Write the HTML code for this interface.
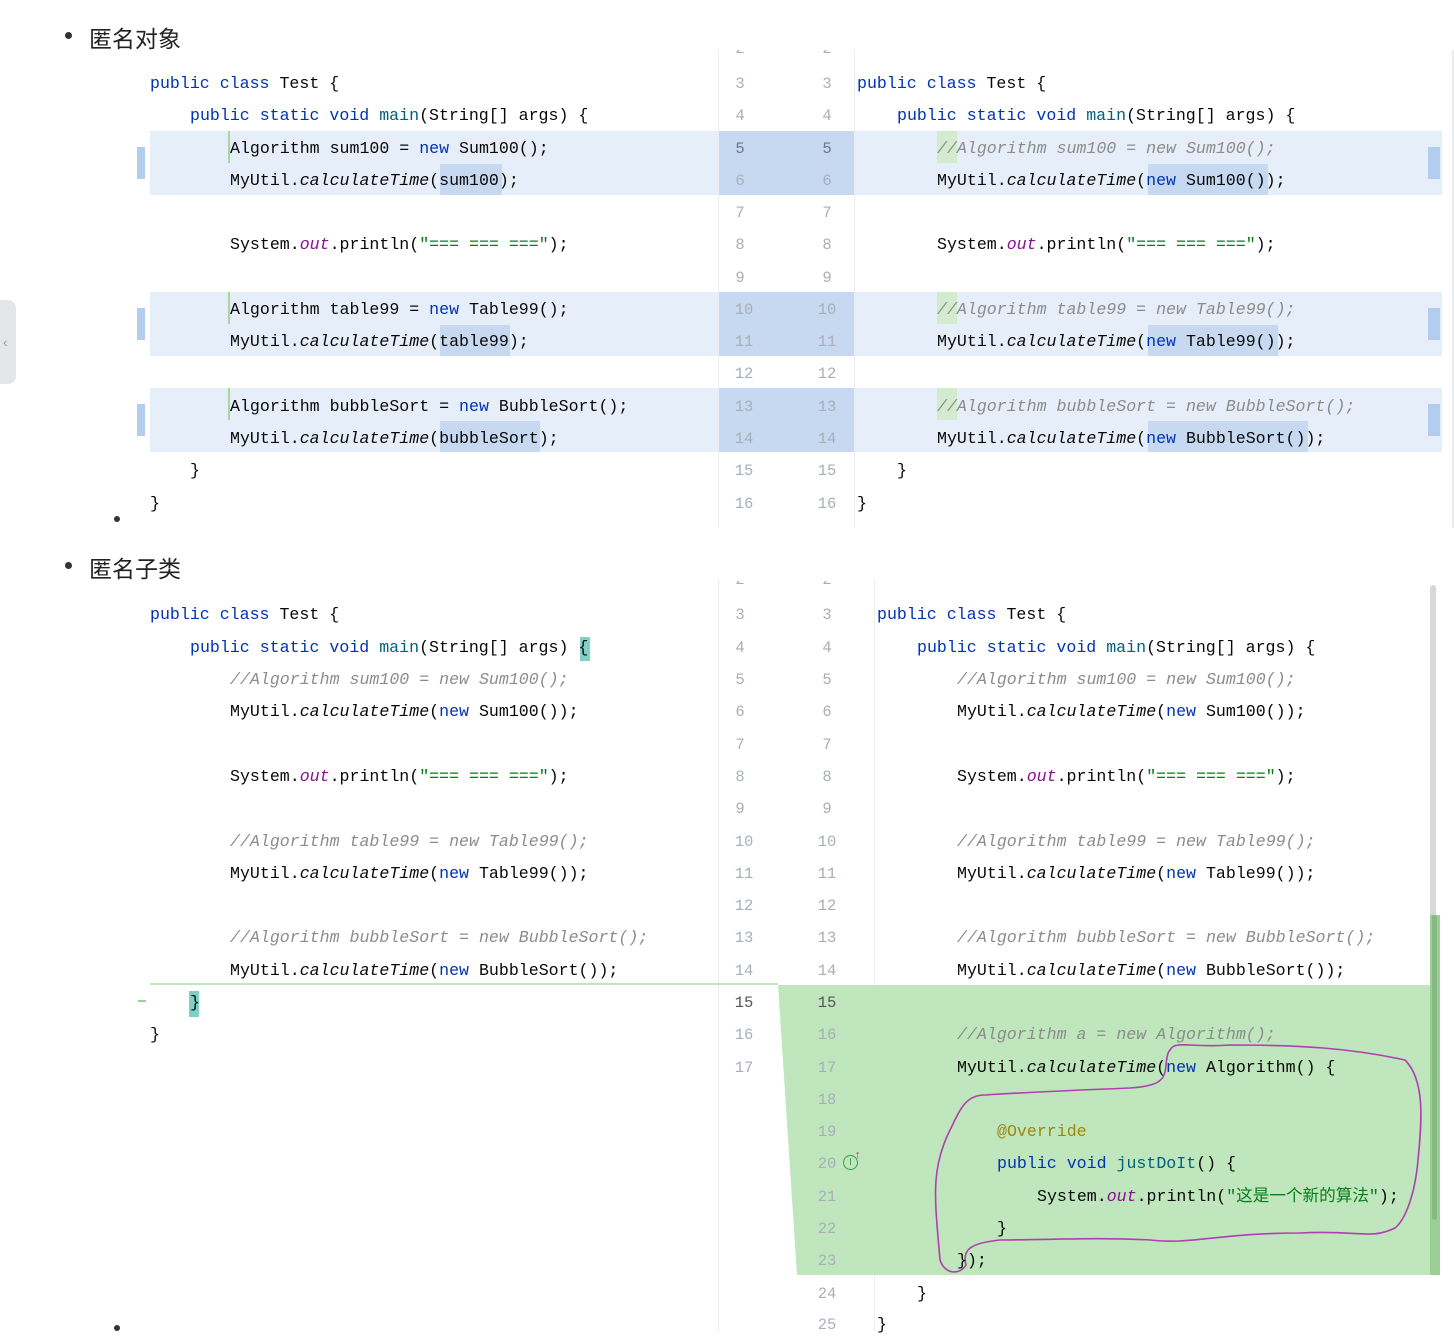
<!DOCTYPE html>
<html><head><meta charset="utf-8"><style>
body{margin:0;width:1454px;height:1331px;background:#fff;position:relative;overflow:hidden;font-family:"Liberation Mono","Noto Sans CJK SC",monospace;}
.a{position:absolute}
.l{position:absolute;height:32px;line-height:32px;white-space:pre;font-size:16.6px;color:#080808;margin-top:2px}
.n{position:absolute;height:32px;line-height:32px;font-size:15.5px;color:#a9aeb9;width:30px;text-align:center;margin-top:2px}
.t2{clip-path:inset(0 0 0 0);}
.k{color:#0033b3}.m{color:#00627a}.o{color:#871094;font-style:italic}.s{color:#067d17}.c{color:#8c8c8c;font-style:italic}.i{font-style:italic}.an{color:#9e880d}
.h{font-family:"Liberation Sans","Noto Sans CJK SC",sans-serif;font-size:23px;color:#222;position:absolute}
.dot{position:absolute;width:7px;height:7px;border-radius:50%;background:#333}
.clipbox{position:absolute;overflow:hidden;width:150px;height:8px}
</style></head><body>
<!-- headings -->
<div class="dot" style="left:65px;top:32px"></div><div class="h" style="left:89px;top:20px">匿名对象</div>
<div class="dot" style="left:65px;top:562px"></div><div class="h" style="left:89px;top:550px">匿名子类</div>
<div class="dot" style="left:114px;top:516px;width:6px;height:6px"></div>
<div class="dot" style="left:114px;top:1325px;width:6px;height:6px"></div>
<div class="a" style="left:0;top:300px;width:16px;height:84px;background:#e4e6ea;border-radius:0 8px 8px 0"></div>
<div class="a" style="left:3px;top:334px;color:#999;font-size:14px;font-family:'Liberation Sans'">‹</div>

<!-- top panel structure -->
<div class="a" style="left:718px;top:50px;width:1px;height:478px;background:#ebedf0"></div>
<div class="a" style="left:854px;top:50px;width:1px;height:478px;background:#ebedf0"></div>
<div class="a" style="left:1452px;top:50px;width:2px;height:478px;background:#ebedf0"></div>
<!-- highlights -->
<div class="a" style="left:150px;top:131px;width:568px;height:64px;background:#e6eef9"></div>
<div class="a" style="left:719px;top:131px;width:135px;height:64px;background:#c6d9f1"></div>
<div class="a" style="left:855px;top:131px;width:587px;height:64px;background:#e6eef9"></div>
<div class="a" style="left:150px;top:292px;width:568px;height:64px;background:#e6eef9"></div>
<div class="a" style="left:719px;top:292px;width:135px;height:64px;background:#c6d9f1"></div>
<div class="a" style="left:855px;top:292px;width:587px;height:64px;background:#e6eef9"></div>
<div class="a" style="left:150px;top:388px;width:568px;height:64px;background:#e6eef9"></div>
<div class="a" style="left:719px;top:388px;width:135px;height:64px;background:#c6d9f1"></div>
<div class="a" style="left:855px;top:388px;width:587px;height:64px;background:#e6eef9"></div>
<div class="a" style="left:137px;top:147px;width:8px;height:32px;background:#b3cdee"></div>
<div class="a" style="left:137px;top:308px;width:8px;height:32px;background:#b3cdee"></div>
<div class="a" style="left:137px;top:404px;width:8px;height:32px;background:#b3cdee"></div>
<div class="a" style="left:1428px;top:147px;width:12px;height:32px;background:#b3cdee"></div>
<div class="a" style="left:1428px;top:308px;width:12px;height:32px;background:#b3cdee"></div>
<div class="a" style="left:1428px;top:404px;width:12px;height:32px;background:#b3cdee"></div>
<div class="a" style="left:440px;top:164px;width:62px;height:31px;background:#c6d9f1"></div>
<div class="a" style="left:440px;top:325px;width:70px;height:31px;background:#c6d9f1"></div>
<div class="a" style="left:440px;top:421px;width:100px;height:31px;background:#c6d9f1"></div>
<div class="a" style="left:1148px;top:164px;width:120px;height:31px;background:#c6d9f1"></div>
<div class="a" style="left:1148px;top:325px;width:130px;height:31px;background:#c6d9f1"></div>
<div class="a" style="left:1148px;top:421px;width:160px;height:31px;background:#c6d9f1"></div>
<div class="a" style="left:228px;top:131px;width:2px;height:32px;background:#a8d8a0"></div>
<div class="a" style="left:228px;top:292px;width:2px;height:32px;background:#a8d8a0"></div>
<div class="a" style="left:228px;top:388px;width:2px;height:32px;background:#a8d8a0"></div>
<div class="a" style="left:937px;top:131px;width:20px;height:32px;background:#d3ebcf"></div>
<div class="a" style="left:937px;top:292px;width:20px;height:32px;background:#d3ebcf"></div>
<div class="a" style="left:937px;top:388px;width:20px;height:32px;background:#d3ebcf"></div>

<!-- top line numbers -->
<div class="clipbox" style="left:719px;top:50px"><div class="n" style="left:6px;top:-19px">2</div><div class="n" style="left:93px;top:-19px">2</div></div>
<div class="n" style="left:725px;top:66px">3</div><div class="n" style="left:812px;top:66px">3</div>
<div class="n" style="left:725px;top:98px">4</div><div class="n" style="left:812px;top:98px">4</div>
<div class="n" style="left:725px;top:131px;color:#6d7686">5</div><div class="n" style="left:812px;top:131px;color:#6d7686">5</div>
<div class="n" style="left:725px;top:163px">6</div><div class="n" style="left:812px;top:163px">6</div>
<div class="n" style="left:725px;top:195px">7</div><div class="n" style="left:812px;top:195px">7</div>
<div class="n" style="left:725px;top:227px">8</div><div class="n" style="left:812px;top:227px">8</div>
<div class="n" style="left:725px;top:260px">9</div><div class="n" style="left:812px;top:260px">9</div>
<div class="n" style="left:729px;top:292px">10</div><div class="n" style="left:812px;top:292px">10</div>
<div class="n" style="left:729px;top:324px">11</div><div class="n" style="left:812px;top:324px">11</div>
<div class="n" style="left:729px;top:356px">12</div><div class="n" style="left:812px;top:356px">12</div>
<div class="n" style="left:729px;top:389px">13</div><div class="n" style="left:812px;top:389px">13</div>
<div class="n" style="left:729px;top:421px">14</div><div class="n" style="left:812px;top:421px">14</div>
<div class="n" style="left:729px;top:453px">15</div><div class="n" style="left:812px;top:453px">15</div>
<div class="n" style="left:729px;top:486px">16</div><div class="n" style="left:812px;top:486px">16</div>

<!-- top left code -->
<div class="l" style="left:150px;top:66px"><span class="k">public class</span> Test {</div>
<div class="l" style="left:190px;top:98px"><span class="k">public static void</span> <span class="m">main</span>(String[] args) {</div>
<div class="l" style="left:230px;top:131px">Algorithm sum100 = <span class="k">new</span> Sum100();</div>
<div class="l" style="left:230px;top:163px">MyUtil.<span class="i">calculateTime</span>(sum100);</div>
<div class="l" style="left:230px;top:227px">System.<span class="o">out</span>.println(<span class="s">"=== === ==="</span>);</div>
<div class="l" style="left:230px;top:292px">Algorithm table99 = <span class="k">new</span> Table99();</div>
<div class="l" style="left:230px;top:324px">MyUtil.<span class="i">calculateTime</span>(table99);</div>
<div class="l" style="left:230px;top:389px">Algorithm bubbleSort = <span class="k">new</span> BubbleSort();</div>
<div class="l" style="left:230px;top:421px">MyUtil.<span class="i">calculateTime</span>(bubbleSort);</div>
<div class="l" style="left:190px;top:453px">}</div>
<div class="l" style="left:150px;top:486px">}</div>
<!-- top right code -->
<div class="l" style="left:857px;top:66px"><span class="k">public class</span> Test {</div>
<div class="l" style="left:897px;top:98px"><span class="k">public static void</span> <span class="m">main</span>(String[] args) {</div>
<div class="l c" style="left:937px;top:131px">//Algorithm sum100 = new Sum100();</div>
<div class="l" style="left:937px;top:163px">MyUtil.<span class="i">calculateTime</span>(<span class="k">new</span> Sum100());</div>
<div class="l" style="left:937px;top:227px">System.<span class="o">out</span>.println(<span class="s">"=== === ==="</span>);</div>
<div class="l c" style="left:937px;top:292px">//Algorithm table99 = new Table99();</div>
<div class="l" style="left:937px;top:324px">MyUtil.<span class="i">calculateTime</span>(<span class="k">new</span> Table99());</div>
<div class="l c" style="left:937px;top:389px">//Algorithm bubbleSort = new BubbleSort();</div>
<div class="l" style="left:937px;top:421px">MyUtil.<span class="i">calculateTime</span>(<span class="k">new</span> BubbleSort());</div>
<div class="l" style="left:897px;top:453px">}</div>
<div class="l" style="left:857px;top:486px">}</div>

<!-- bottom panel -->
<div class="a" style="left:718px;top:580px;width:1px;height:751px;background:#ebedf0"></div>
<div class="a" style="left:874px;top:580px;width:1px;height:751px;background:#ebedf0"></div>
<div class="a" style="left:150px;top:983px;width:628px;height:2px;background:#bfe6bd"></div>
<svg class="a" style="left:0;top:0" width="1454" height="1331">
<polygon points="778,985 1440,985 1440,1275 797,1275" fill="#bfe6bd"/>
<path d="M1170,1050 C1175,1040 1190,1048 1230,1045 C1300,1045 1350,1048 1405,1060 C1425,1080 1422,1120 1418,1160 C1415,1195 1405,1220 1395,1228 C1370,1240 1360,1230 1300,1233 C1220,1233 1190,1245 1150,1240 C1100,1237 1040,1240 1000,1240 C970,1243 962,1250 966,1265 C960,1275 945,1275 940,1260 C935,1200 930,1170 950,1130 C960,1110 965,1095 985,1095 C1030,1092 1080,1090 1130,1088 C1160,1086 1165,1080 1166,1065 C1167,1055 1168,1052 1170,1050 Z" fill="none" stroke="#b040b0" stroke-width="1.6"/>
</svg>
<div class="a" style="left:1430px;top:585px;width:6px;height:640px;background:#d8d8d8;border-radius:3px"></div>
<div class="a" style="left:1430px;top:915px;width:10px;height:360px;background:#9ccf98"></div>
<div class="a" style="left:1432px;top:915px;width:5px;height:305px;background:#86b982;border-radius:3px"></div>
<div class="a" style="left:138px;top:1000px;width:8px;height:2px;background:#9ccf98"></div>
<div class="a" style="left:580px;top:637px;width:10px;height:24px;background:#7fd1c7"></div>
<div class="a" style="left:189px;top:991px;width:10px;height:26px;background:#7fd1c7"></div>

<!-- bottom line numbers -->
<div class="clipbox" style="left:719px;top:581px"><div class="n" style="left:6px;top:-19px">2</div><div class="n" style="left:93px;top:-19px">2</div></div>
<div class="n" style="left:725px;top:597px">3</div><div class="n" style="left:812px;top:597px">3</div>
<div class="n" style="left:725px;top:630px">4</div><div class="n" style="left:812px;top:630px">4</div>
<div class="n" style="left:725px;top:662px">5</div><div class="n" style="left:812px;top:662px">5</div>
<div class="n" style="left:725px;top:694px">6</div><div class="n" style="left:812px;top:694px">6</div>
<div class="n" style="left:725px;top:727px">7</div><div class="n" style="left:812px;top:727px">7</div>
<div class="n" style="left:725px;top:759px">8</div><div class="n" style="left:812px;top:759px">8</div>
<div class="n" style="left:725px;top:791px">9</div><div class="n" style="left:812px;top:791px">9</div>
<div class="n" style="left:729px;top:824px">10</div><div class="n" style="left:812px;top:824px">10</div>
<div class="n" style="left:729px;top:856px">11</div><div class="n" style="left:812px;top:856px">11</div>
<div class="n" style="left:729px;top:888px">12</div><div class="n" style="left:812px;top:888px">12</div>
<div class="n" style="left:729px;top:920px">13</div><div class="n" style="left:812px;top:920px">13</div>
<div class="n" style="left:729px;top:953px">14</div><div class="n" style="left:812px;top:953px">14</div>
<div class="n" style="left:729px;top:985px;color:#555">15</div><div class="n" style="left:812px;top:985px;color:#555">15</div>
<div class="n" style="left:729px;top:1017px">16</div><div class="n" style="left:812px;top:1017px">16</div>
<div class="n" style="left:729px;top:1050px">17</div><div class="n" style="left:812px;top:1050px">17</div>
<div class="n" style="left:812px;top:1082px">18</div>
<div class="n" style="left:812px;top:1114px">19</div>
<div class="n" style="left:812px;top:1146px">20</div>
<div class="a" style="left:843px;top:1155px;width:13px;height:13px;border:1.5px solid #3a9a4a;border-radius:50%;font-size:10px;line-height:13px;text-align:center;color:#3a9a4a;font-family:'Liberation Sans'">I</div>
<div class="a" style="left:855px;top:1149px;font-size:11px;color:#d03030;font-family:'Liberation Sans'">↑</div>
<div class="n" style="left:812px;top:1179px">21</div>
<div class="n" style="left:812px;top:1211px">22</div>
<div class="n" style="left:812px;top:1243px">23</div>
<div class="n" style="left:812px;top:1276px">24</div>
<div class="n" style="left:812px;top:1307px">25</div>

<!-- bottom left code -->
<div class="l" style="left:150px;top:597px"><span class="k">public class</span> Test {</div>
<div class="l" style="left:190px;top:630px"><span class="k">public static void</span> <span class="m">main</span>(String[] args) {</div>
<div class="l c" style="left:230px;top:662px">//Algorithm sum100 = new Sum100();</div>
<div class="l" style="left:230px;top:694px">MyUtil.<span class="i">calculateTime</span>(<span class="k">new</span> Sum100());</div>
<div class="l" style="left:230px;top:759px">System.<span class="o">out</span>.println(<span class="s">"=== === ==="</span>);</div>
<div class="l c" style="left:230px;top:824px">//Algorithm table99 = new Table99();</div>
<div class="l" style="left:230px;top:856px">MyUtil.<span class="i">calculateTime</span>(<span class="k">new</span> Table99());</div>
<div class="l c" style="left:230px;top:920px">//Algorithm bubbleSort = new BubbleSort();</div>
<div class="l" style="left:230px;top:953px">MyUtil.<span class="i">calculateTime</span>(<span class="k">new</span> BubbleSort());</div>
<div class="l" style="left:190px;top:985px">}</div>
<div class="l" style="left:150px;top:1017px">}</div>
<!-- bottom right code -->
<div class="l" style="left:877px;top:597px"><span class="k">public class</span> Test {</div>
<div class="l" style="left:917px;top:630px"><span class="k">public static void</span> <span class="m">main</span>(String[] args) {</div>
<div class="l c" style="left:957px;top:662px">//Algorithm sum100 = new Sum100();</div>
<div class="l" style="left:957px;top:694px">MyUtil.<span class="i">calculateTime</span>(<span class="k">new</span> Sum100());</div>
<div class="l" style="left:957px;top:759px">System.<span class="o">out</span>.println(<span class="s">"=== === ==="</span>);</div>
<div class="l c" style="left:957px;top:824px">//Algorithm table99 = new Table99();</div>
<div class="l" style="left:957px;top:856px">MyUtil.<span class="i">calculateTime</span>(<span class="k">new</span> Table99());</div>
<div class="l c" style="left:957px;top:920px">//Algorithm bubbleSort = new BubbleSort();</div>
<div class="l" style="left:957px;top:953px">MyUtil.<span class="i">calculateTime</span>(<span class="k">new</span> BubbleSort());</div>
<div class="l c" style="left:957px;top:1017px">//Algorithm a = new Algorithm();</div>
<div class="l" style="left:957px;top:1050px">MyUtil.<span class="i">calculateTime</span>(<span class="k">new</span> Algorithm() {</div>
<div class="l an" style="left:997px;top:1114px">@Override</div>
<div class="l" style="left:997px;top:1146px"><span class="k">public void</span> <span class="m">justDoIt</span>() {</div>
<div class="l" style="left:1037px;top:1179px">System.<span class="o">out</span>.println(<span class="s">"这是一个新的算法"</span>);</div>
<div class="l" style="left:997px;top:1211px">}</div>
<div class="l" style="left:957px;top:1243px">});</div>
<div class="l" style="left:917px;top:1276px">}</div>
<div class="l" style="left:877px;top:1307px">}</div>
</body></html>
